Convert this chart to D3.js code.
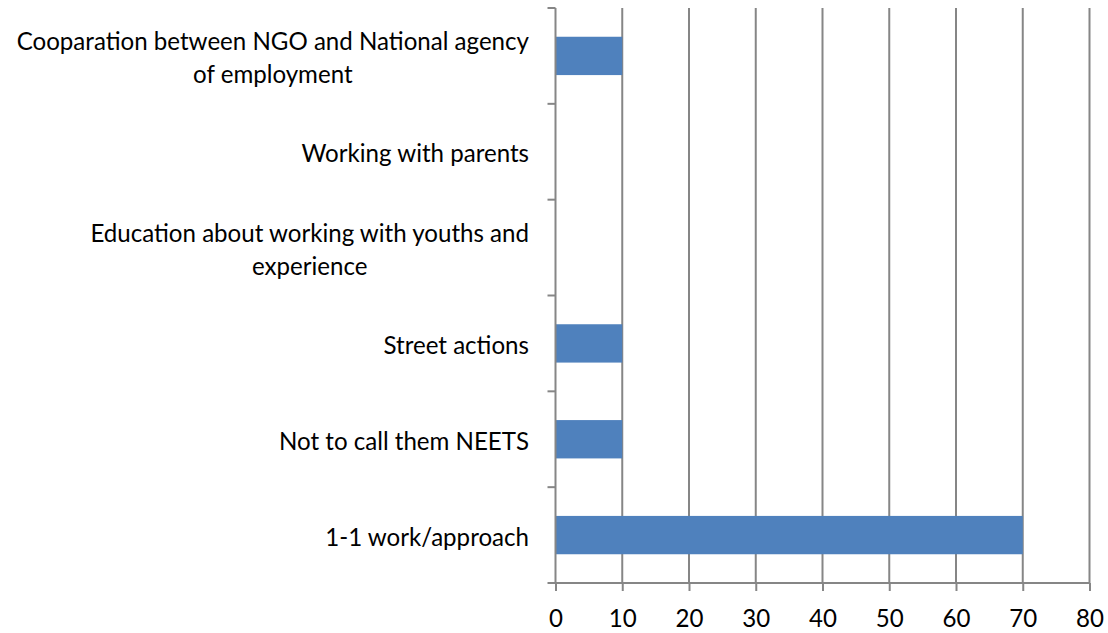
<!DOCTYPE html>
<html>
<head>
<meta charset="utf-8">
<script src="https://cdn.jsdelivr.net/npm/d3@7"></script>
<style>
  html, body { margin: 0; padding: 0; background: #fff; }
  svg { display: block; }
  text { font-family: Lato, "Open Sans", sans-serif; fill: #000; }
</style>
</head>
<body>
<svg id="chart" width="1108" height="633"></svg>
<script>
// Categories listed bottom-to-top as they appear on the axis
const categories = [
  ["1-1 work/approach"],
  ["Not to call them NEETS"],
  ["Street actions"],
  ["Education about working with youths and", "experience"],
  ["Working with parents"],
  ["Cooparation between NGO and National agency", "of employment"]
];
const values = [70, 10, 10, 0, 0, 10];
const xTicks = [0, 10, 20, 30, 40, 50, 60, 70, 80];

(function () {
const svg = d3.select("#chart");
const plotLeft = 555.5, plotRight = 1089.5, plotTop = 8, plotBottom = 583;
const gridColor = "#868686";
const fontSize = 24.1;

const x = d3.scaleLinear().domain([0, 80]).range([plotLeft, plotRight]);
const y = d3.scaleBand()
  .domain(d3.range(categories.length).reverse())
  .range([plotTop, plotBottom])
  .paddingInner(0.6)
  .paddingOuter(0.3);
const yBoundaries = d3.scaleLinear().domain([0, categories.length]).range([plotBottom, plotTop]);

// vertical gridlines
svg.append("g").selectAll("line")
  .data(xTicks.filter(d => d > 0))
  .join("line")
  .attr("x1", d => x(d)).attr("x2", d => x(d))
  .attr("y1", plotTop).attr("y2", plotBottom)
  .attr("stroke", gridColor).attr("stroke-width", 2);

// bars
svg.append("g").selectAll("rect")
  .data(values.map((v, i) => ({ v, i })))
  .join("rect")
  .attr("x", x(0))
  .attr("y", d => y(d.i))
  .attr("width", d => x(d.v) - x(0))
  .attr("height", y.bandwidth())
  .attr("fill", "#4F81BD");

// x axis
const xAxis = svg.append("g")
  .attr("transform", `translate(0,${plotBottom})`)
  .call(d3.axisBottom(x).tickValues(xTicks).tickSize(8).tickPadding(19).tickFormat(d3.format("d")));
xAxis.select(".domain").attr("stroke", gridColor).attr("stroke-width", 2).attr("d", `M${plotLeft},0H${plotRight}`);
xAxis.selectAll(".tick line").attr("stroke", gridColor).attr("stroke-width", 2);
xAxis.selectAll(".tick text").style("font-size", fontSize + "px").attr("fill", "#000");

// y axis line with boundary tick marks
const yAxis = svg.append("g");
yAxis.append("line")
  .attr("x1", plotLeft).attr("x2", plotLeft).attr("y1", plotTop).attr("y2", plotBottom)
  .attr("stroke", gridColor).attr("stroke-width", 2);
yAxis.selectAll("line.tk")
  .data(d3.range(categories.length + 1))
  .join("line").attr("class", "tk")
  .attr("x1", plotLeft - 8).attr("x2", plotLeft)
  .attr("y1", d => yBoundaries(d)).attr("y2", d => yBoundaries(d))
  .attr("stroke", gridColor).attr("stroke-width", 2);

// category labels, right-aligned block with centred lines
const labelRight = 529;
const lineH = 33;
const labels = svg.append("g");
categories.forEach((lines, i) => {
  const cy = y(i) + y.bandwidth() / 2;
  const g = labels.append("g");
  const texts = lines.map((s, k) => g.append("text")
    .attr("y", cy + (k - (lines.length - 1) / 2) * lineH)
    .attr("dy", 10.5)
    .style("font-size", fontSize + "px")
    .text(s));
  const maxW = d3.max(texts, t => t.node().getComputedTextLength());
  texts.forEach(t => t.attr("text-anchor", "middle").attr("x", labelRight - maxW / 2));
});
})();
</script>
</body>
</html>
